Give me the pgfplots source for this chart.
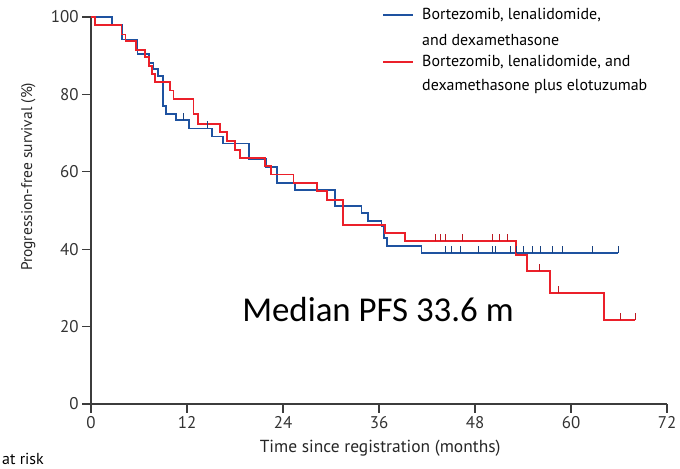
\documentclass[border=0pt]{standalone}
\usepackage{pgfplots}
\pgfplotsset{compat=1.18}
\usepackage{fontspec}
\setmainfont{PT Sans}
\newfontfamily\carlito{Carlito}
\definecolor{kmblue}{RGB}{30,82,160}
\definecolor{kmred}{RGB}{235,32,42}
\definecolor{axgray}{RGB}{60,60,60}
\pgfdeclareplotmark{cens}{\pgfpathmoveto{\pgfpointorigin}\pgfpathlineto{\pgfpoint{0pt}{7bp}}\pgfusepathqstroke}

\pgfplotstableread{
t s
0 100
2.6 97.9
3.9 94.2
5.8 90.4
7.2 88.2
7.8 86.5
8.4 84.8
9.0 77.1
9.4 75.0
10.6 73.3
12.2 71.2
15.1 69.1
16.5 67.3
19.7 63.4
21.9 61.2
23.2 57.1
25.5 55.2
30.5 51.2
33.8 49.3
34.6 47.2
36.3 45.9
36.6 42.9
37.0 40.9
41.3 39.1
65.9 39.1
}\bluecurve

\pgfplotstableread{
t s
0 100
0.5 98.0
3.8 95.5
4.3 93.8
5.6 91.5
6.7 89.7
7.2 87.4
7.6 85.2
8.0 83.3
9.9 81.0
10.3 78.8
12.8 75.0
13.4 72.3
16.1 70.2
17.0 68.0
18.0 65.7
18.6 63.5
21.75 61.5
22.5 59.3
25.3 57.1
28.2 55.0
29.5 52.8
31.5 46.3
36.75 44.2
39.25 42.1
53.1 38.4
54.5 34.4
57.4 28.6
64.1 21.7
68.0 21.7
}\redcurve

\pgfplotstableread{
t s
11.5 73.3
14.6 71.2
44.25 39.1
45.1 39.1
46.2 39.1
48.4 39.1
50.2 39.1
50.5 39.1
52.4 39.1
53.2 39.1
54.0 39.1
55.2 39.1
56.2 39.1
57.7 39.1
58.9 39.1
62.7 39.1
65.9 39.1
}\bluecens

\pgfplotstableread{
t s
43.0 42.1
43.7 42.1
44.25 42.1
46.4 42.1
50.2 42.1
51.1 42.1
52.0 42.1
56.1 34.4
58.4 28.6
66.2 21.7
68.0 21.7
}\redcens

\begin{document}
\begin{tikzpicture}[x=1bp,y=1bp]
\useasboundingbox (0,0) rectangle (680,469);
\begin{axis}[
  at={(91bp,65bp)}, anchor=south west,
  scale only axis, width=576bp, height=387bp,
  xmin=0, xmax=72, ymin=0, ymax=100,
  axis lines=left,
  axis line style={-, axgray, line width=1.3bp},
  xtick={0,12,...,72}, ytick={0,20,...,100},
  tick align=outside, major tick length=9bp,
  tick style={axgray, line width=1.1bp},
  ticklabel style={font=\fontsize{17}{19}\selectfont, text=black!80},
  /pgf/number format/assume math mode=true,
  xlabel={Time since registration (months)},
  ylabel={Progression-free survival (\%)},
  xlabel style={font=\fontsize{17.5}{19}\selectfont, text=black!85, at={(axis description cs:0.502,-0.115)}, anchor=center},
  ylabel style={font=\fontsize{15.5}{17}\selectfont, text=black!85, at={(axis description cs:-0.109,0.587)}, anchor=center},
  clip=false,
]
\addplot[const plot, kmblue, line width=1.8bp] table[x=t,y=s] {\bluecurve};
\addplot[const plot, kmred, line width=1.8bp] table[x=t,y=s] {\redcurve};
\addplot[only marks, mark=cens, kmblue!80!black, mark options={line width=0.8bp}] table[x=t,y=s] {\bluecens};
\addplot[only marks, mark=cens, kmred!80!black, mark options={line width=0.8bp}] table[x=t,y=s] {\redcens};
\end{axis}
\draw[kmblue, line width=1.5bp] (383,454) -- (413,454);
\node[anchor=west, font=\fontsize{16}{18}\selectfont, inner sep=0pt] at (422,454) {Bortezomib, lenalidomide,};
\node[anchor=west, font=\fontsize{16}{18}\selectfont, inner sep=0pt] at (422,429) {and dexamethasone};
\draw[kmred, line width=1.5bp] (383,407) -- (413,407);
\node[anchor=west, font=\fontsize{16}{18}\selectfont, inner sep=0pt] at (422,407) {Bortezomib, lenalidomide, and};
\node[anchor=west, font=\fontsize{16}{18}\selectfont, inner sep=0pt] at (422,382) {dexamethasone plus elotuzumab};
\node[anchor=base, font=\carlito\fontsize{35}{40}\selectfont, inner sep=0pt] at (378,147) {Median PFS 33.6 m};
\node[anchor=base west, font=\fontsize{16}{18}\selectfont, inner sep=0pt] at (2,4) {at risk};
\end{tikzpicture}
\end{document}
